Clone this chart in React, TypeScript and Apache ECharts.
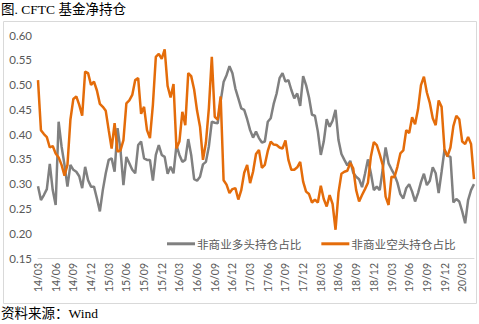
import React, { useEffect, useRef } from "react";
import * as echarts from "echarts";

// Half-month sample points from 2014/03 to 2020/05
const categories: string[] = [];
for (let i = 0; i < 149; i++) {
  const m = 3 + Math.floor(i / 2);
  const yy = 14 + Math.floor((m - 1) / 12);
  const mm = ((m - 1) % 12) + 1;
  categories.push(`${yy}/${mm < 10 ? "0" + mm : mm}`);
}

const longShare = [
  0.295, 0.267, 0.277, 0.289, 0.340, 0.287, 0.257, 0.425, 0.375, 0.338,
  0.294, 0.338, 0.328, 0.324, 0.315, 0.291, 0.334, 0.307, 0.294, 0.294,
  0.270, 0.244, 0.287, 0.321, 0.348, 0.351, 0.324, 0.412, 0.368, 0.297,
  0.354, 0.341, 0.328, 0.321, 0.378, 0.385, 0.351, 0.348, 0.348, 0.306,
  0.358, 0.378, 0.358, 0.354, 0.320, 0.334, 0.321, 0.378, 0.358, 0.344,
  0.348, 0.390, 0.358, 0.309, 0.306, 0.314, 0.339, 0.344, 0.375, 0.425,
  0.423, 0.422, 0.466, 0.505, 0.519, 0.537, 0.523, 0.492, 0.472, 0.452,
  0.449, 0.430, 0.408, 0.393, 0.405, 0.392, 0.383, 0.385, 0.425, 0.432,
  0.461, 0.482, 0.513, 0.523, 0.506, 0.509, 0.489, 0.472, 0.482, 0.457,
  0.517, 0.499, 0.474, 0.439, 0.437, 0.405, 0.358, 0.385, 0.430, 0.415,
  0.427, 0.449, 0.388, 0.360, 0.348, 0.337, 0.346, 0.322, 0.314, 0.309,
  0.293, 0.320, 0.349, 0.321, 0.287, 0.294, 0.287, 0.328, 0.373, 0.341,
  0.329, 0.318, 0.302, 0.279, 0.270, 0.291, 0.299, 0.284, 0.264, 0.281,
  0.303, 0.320, 0.297, 0.306, 0.333, 0.321, 0.281, 0.324, 0.369, 0.356,
  0.354, 0.262, 0.269, 0.264, 0.244, 0.220, 0.267, 0.287, 0.299,
];

const shortShare = [
  0.509, 0.408, 0.400, 0.394, 0.373, 0.376, 0.361, 0.353, 0.338, 0.316,
  0.338, 0.429, 0.471, 0.476, 0.459, 0.437, 0.526, 0.523, 0.499, 0.506,
  0.488, 0.461, 0.455, 0.447, 0.408, 0.371, 0.422, 0.365, 0.367, 0.388,
  0.462, 0.468, 0.479, 0.509, 0.513, 0.441, 0.455, 0.408, 0.392, 0.459,
  0.556, 0.562, 0.552, 0.571, 0.497, 0.474, 0.501, 0.371, 0.385, 0.445,
  0.418, 0.523, 0.517, 0.490, 0.447, 0.415, 0.348, 0.383, 0.452, 0.556,
  0.435, 0.429, 0.476, 0.307, 0.298, 0.281, 0.289, 0.291, 0.268, 0.287,
  0.322, 0.338, 0.301, 0.324, 0.360, 0.368, 0.332, 0.338, 0.366, 0.385,
  0.379, 0.378, 0.373, 0.371, 0.387, 0.348, 0.328, 0.328, 0.333, 0.344,
  0.304, 0.284, 0.279, 0.262, 0.268, 0.262, 0.296, 0.269, 0.254, 0.277,
  0.259, 0.207, 0.282, 0.320, 0.324, 0.326, 0.342, 0.331, 0.287, 0.264,
  0.277, 0.289, 0.302, 0.355, 0.384, 0.378, 0.359, 0.338, 0.274, 0.257,
  0.314, 0.313, 0.334, 0.361, 0.367, 0.408, 0.402, 0.434, 0.420, 0.450,
  0.499, 0.516, 0.484, 0.463, 0.432, 0.418, 0.468, 0.455, 0.368, 0.355,
  0.373, 0.416, 0.437, 0.430, 0.385, 0.380, 0.394, 0.380, 0.309,
];

const seriesNames = ["非商业多头持仓占比", "非商业空头持仓占比"];
const title = "图. CFTC 基金净持仓";
const source = "资料来源：Wind";

export default function App() {
  const ref = useRef<HTMLDivElement>(null);
  useEffect(() => {
    if (!ref.current) return;
    const chart = echarts.init(ref.current, null, { renderer: "svg" });
    const axisFont = "Lato, 'Noto Sans', sans-serif";
    chart.setOption({
      animation: false,
      backgroundColor: "#ffffff",
      grid: { left: 38, right: 5, top: 35, bottom: 66, containLabel: false },
      graphic: [
        {
          type: "rect",
          shape: { x: 3.5, y: 21.5, width: 473, height: 282 },
          style: { fill: "none", stroke: "#d9d9d9", lineWidth: 1 },
          silent: true,
        },
        {
          type: "text",
          left: 1,
          top: 3,
          style: {
            text: title,
            fontSize: 13.5,
            fill: "#000",
            fontFamily: "'Liberation Serif', 'Noto Sans CJK SC', serif",
          },
        },
        {
          type: "text",
          left: 1,
          top: 307,
          style: {
            text: source,
            fontSize: 13.5,
            fill: "#000",
            fontFamily: "'Liberation Serif', 'Noto Sans CJK SC', serif",
          },
        },
      ],
      legend: {
        left: 162,
        top: 233,
        itemWidth: 28,
        itemHeight: 3,
        itemGap: 20,
        icon: "rect",
        textStyle: {
          fontSize: 11.6,
          color: "#595959",
          fontFamily: "'Noto Sans CJK SC', sans-serif",
          padding: [0, 0, 0, -3],
        },
        data: seriesNames,
      },
      xAxis: {
        type: "category",
        data: categories,
        boundaryGap: false,
        axisLine: { show: true, lineStyle: { color: "#d9d9d9", width: 1 } },
        axisTick: { show: false },
        splitLine: { show: false },
        axisLabel: {
          interval: 5,
          rotate: 90,
          margin: 5,
          fontSize: 10.5,
          color: "#595959",
          fontFamily: axisFont,
        },
      },
      yAxis: {
        type: "value",
        min: 0.15,
        max: 0.6,
        interval: 0.05,
        axisLine: { show: false },
        axisTick: { show: false },
        splitLine: { show: false },
        axisLabel: {
          margin: 6,
          fontSize: 11.5,
          color: "#595959",
          fontFamily: axisFont,
          formatter: (v: number) => v.toFixed(2),
        },
      },
      series: [
        {
          name: seriesNames[0],
          type: "line",
          data: longShare,
          symbol: "none",
          lineStyle: { color: "#808080", width: 2.5 },
          itemStyle: { color: "#808080" },
        },
        {
          name: seriesNames[1],
          type: "line",
          data: shortShare,
          symbol: "none",
          lineStyle: { color: "#e46c0a", width: 2.5 },
          itemStyle: { color: "#e46c0a" },
        },
      ],
    });
    return () => chart.dispose();
  }, []);
  return (
    <div
      ref={ref}
      style={{ position: "fixed", left: 0, top: 0, width: 479, height: 324 }}
    />
  );
}
